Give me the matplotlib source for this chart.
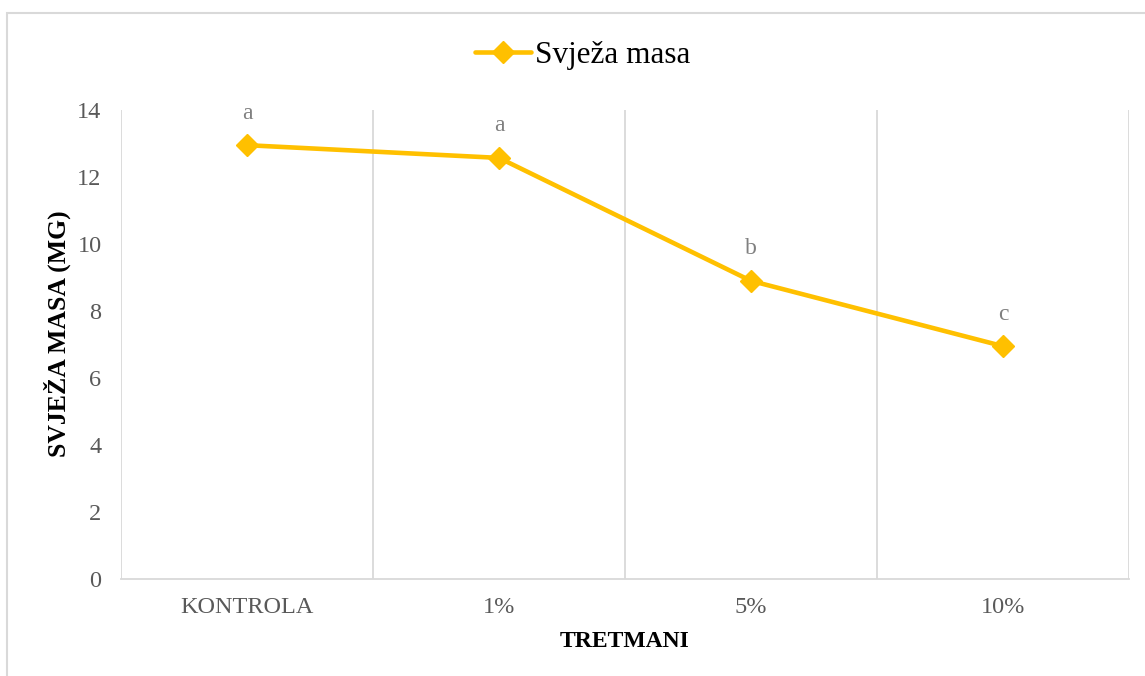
import matplotlib
matplotlib.use("Agg")
import matplotlib.pyplot as plt
from matplotlib.patches import Rectangle

categories = ["KONTROLA", "1%", "5%", "10%"]
svjeza_masa = [12.95, 12.57, 8.9, 6.95]
letters = ["a", "a", "b", "c"]
series_name = "Svježa masa"
y_ticks = [0, 2, 4, 6, 8, 10, 12, 14]

plt.rcParams['font.family'] = ['Liberation Serif', 'DejaVu Serif']

W, H = 1145, 676
fig = plt.figure(figsize=(W / 100, H / 100), dpi=100)

# outer chart border (cropped on right/bottom)
fig.patches.append(Rectangle((7 / W, -0.1), 1.2, 1 - 13 / H + 0.1,
                             transform=fig.transFigure, fill=False,
                             edgecolor="#D9D9D9", linewidth=1.5))

ax = fig.add_axes([121 / W, 1 - 579 / H, (1129 - 121) / W, (579 - 110) / H])
x = list(range(len(categories)))
line, = ax.plot(x, svjeza_masa, color="#FFC000", linewidth=3.3, marker="D",
                markersize=11, label=series_name, solid_capstyle="round")

for xi, yi, lt in zip(x, svjeza_masa, letters):
    ax.annotate(lt, (xi, yi), xytext=(0, 23), textcoords="offset points",
                ha="center", va="center", fontsize=17, color="#808080")

ax.set_xlim(-0.5, len(categories) - 0.5)
ax.set_ylim(0, 14)
ax.set_yticks(y_ticks)
ax.set_yticklabels([str(v) for v in y_ticks], fontsize=17.5, color="#595959")
ax.set_xticks(x)
ax.set_xticklabels(categories, fontsize=17.5, color="#595959")
ax.tick_params(axis="both", length=0)
ax.tick_params(axis="y", pad=14)
ax.tick_params(axis="x", pad=13)

for b in [i - 0.5 for i in range(len(categories) + 1)]:
    ax.axvline(b, color="#D9D9D9", linewidth=1.3, zorder=0)

for s in ["top", "right", "left"]:
    ax.spines[s].set_visible(False)
ax.spines["bottom"].set_color("#D9D9D9")
ax.spines["bottom"].set_linewidth(1.3)

ax.set_ylabel("SVJEŽA MASA (MG)", fontsize=18.5, fontweight="bold", color="black",
              va="center")
ax.yaxis.set_label_coords(-0.0635, 0.522)
ax.set_xlabel("TRETMANI", fontsize=17, fontweight="bold", color="black",
              labelpad=9)

leg = fig.legend(handles=[line], loc="center", bbox_to_anchor=(583 / W, 1 - 55 / H),
                 frameon=False, fontsize=22.5, handlelength=1.8, handletextpad=0.13)

fig.savefig("out.png", dpi=100)
